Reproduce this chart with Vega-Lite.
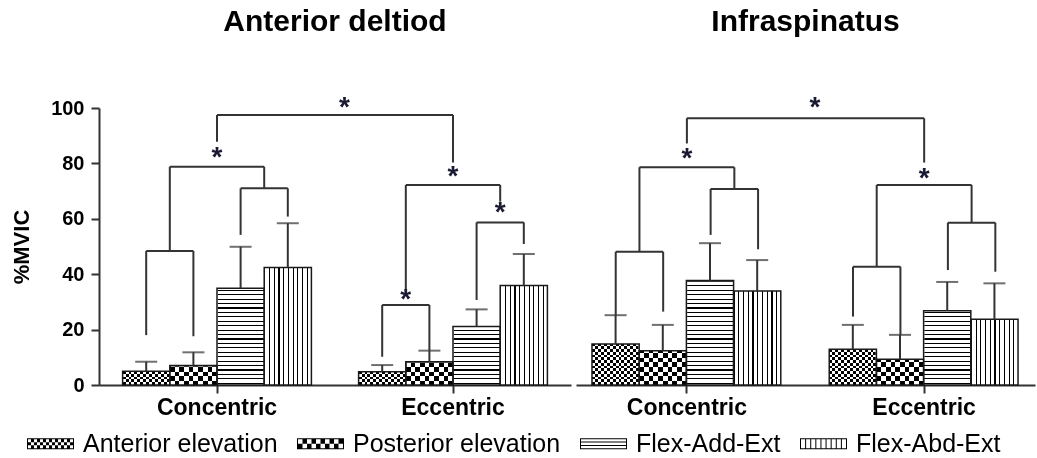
{
  "$schema": "https://vega.github.io/schema/vega-lite/v6.json",
  "background": "white",
  "padding": {"left": 10, "top": 7, "right": 3, "bottom": 0},
  "spacing": 5,
  "datasets": {
    "bars": [
      {"muscle": "Anterior deltiod", "phase": "Concentric", "type": "Anterior elevation", "mean": 5.0, "upper": 8.4},
      {"muscle": "Anterior deltiod", "phase": "Concentric", "type": "Posterior elevation", "mean": 7.0, "upper": 11.8},
      {"muscle": "Anterior deltiod", "phase": "Concentric", "type": "Flex-Add-Ext", "mean": 34.9, "upper": 49.9},
      {"muscle": "Anterior deltiod", "phase": "Concentric", "type": "Flex-Abd-Ext", "mean": 42.4, "upper": 58.4},
      {"muscle": "Anterior deltiod", "phase": "Eccentric", "type": "Anterior elevation", "mean": 4.8, "upper": 7.2},
      {"muscle": "Anterior deltiod", "phase": "Eccentric", "type": "Posterior elevation", "mean": 8.4, "upper": 12.4},
      {"muscle": "Anterior deltiod", "phase": "Eccentric", "type": "Flex-Add-Ext", "mean": 21.1, "upper": 27.3},
      {"muscle": "Anterior deltiod", "phase": "Eccentric", "type": "Flex-Abd-Ext", "mean": 35.9, "upper": 47.3},
      {"muscle": "Infraspinatus", "phase": "Concentric", "type": "Anterior elevation", "mean": 14.8, "upper": 25.2},
      {"muscle": "Infraspinatus", "phase": "Concentric", "type": "Posterior elevation", "mean": 12.4, "upper": 21.7},
      {"muscle": "Infraspinatus", "phase": "Concentric", "type": "Flex-Add-Ext", "mean": 37.7, "upper": 51.2},
      {"muscle": "Infraspinatus", "phase": "Concentric", "type": "Flex-Abd-Ext", "mean": 33.9, "upper": 45.1},
      {"muscle": "Infraspinatus", "phase": "Eccentric", "type": "Anterior elevation", "mean": 12.9, "upper": 21.7},
      {"muscle": "Infraspinatus", "phase": "Eccentric", "type": "Posterior elevation", "mean": 9.3, "upper": 18.1},
      {"muscle": "Infraspinatus", "phase": "Eccentric", "type": "Flex-Add-Ext", "mean": 26.8, "upper": 37.2},
      {"muscle": "Infraspinatus", "phase": "Eccentric", "type": "Flex-Abd-Ext", "mean": 23.7, "upper": 36.7}
    ],
    "brackets": [
      {"muscle": "Anterior deltiod", "xa": 1, "xb": 2, "y": 48.4, "ya": 18.0, "yb": 17.6},
      {"muscle": "Anterior deltiod", "xa": 3, "xb": 4, "y": 71.0, "ya": 54.2, "yb": 60.8},
      {"muscle": "Anterior deltiod", "xa": 1.5, "xb": 3.5, "y": 78.8, "ya": 48.4, "yb": 71.0},
      {"muscle": "Anterior deltiod", "xa": 6, "xb": 7, "y": 28.9, "ya": 10.2, "yb": 12.4},
      {"muscle": "Anterior deltiod", "xa": 8, "xb": 9, "y": 58.7, "ya": 30.7, "yb": 50.9},
      {"muscle": "Anterior deltiod", "xa": 6.5, "xb": 8.5, "y": 72.2, "ya": 33.7, "yb": 66.2},
      {"muscle": "Anterior deltiod", "xa": 2.5, "xb": 7.5, "y": 97.5, "ya": 87.8, "yb": 80.3},
      {"muscle": "Infraspinatus", "xa": 1, "xb": 2, "y": 48.1, "ya": 25.2, "yb": 26.5},
      {"muscle": "Infraspinatus", "xa": 3, "xb": 4, "y": 70.8, "ya": 54.2, "yb": 49.0},
      {"muscle": "Infraspinatus", "xa": 1.5, "xb": 3.5, "y": 78.6, "ya": 48.1, "yb": 70.8},
      {"muscle": "Infraspinatus", "xa": 6, "xb": 7, "y": 42.7, "ya": 24.7, "yb": 18.1},
      {"muscle": "Infraspinatus", "xa": 8, "xb": 9, "y": 58.6, "ya": 41.5, "yb": 40.9},
      {"muscle": "Infraspinatus", "xa": 6.5, "xb": 8.5, "y": 72.2, "ya": 42.7, "yb": 58.6},
      {"muscle": "Infraspinatus", "xa": 2.5, "xb": 7.5, "y": 96.3, "ya": 87.2, "yb": 80.3}
    ],
    "stars": [
      {"muscle": "Anterior deltiod", "x": 2.5, "y": 83.4, "label": "*"},
      {"muscle": "Anterior deltiod", "x": 6.5, "y": 32.1, "label": "*"},
      {"muscle": "Anterior deltiod", "x": 8.5, "y": 63.5, "label": "*"},
      {"muscle": "Anterior deltiod", "x": 7.5, "y": 76.4, "label": "*"},
      {"muscle": "Anterior deltiod", "x": 5.2, "y": 101.4, "label": "*"},
      {"muscle": "Infraspinatus", "x": 2.5, "y": 83.0, "label": "*"},
      {"muscle": "Infraspinatus", "x": 7.5, "y": 75.8, "label": "*"},
      {"muscle": "Infraspinatus", "x": 5.2, "y": 101.4, "label": "*"}
    ]
  },
  "resolve": {"scale": {"shape": "shared"}, "legend": {"shape": "shared"}},
  "hconcat": [
    {
      "width": 472,
      "height": 277,
      "title": {"text": "Anterior deltiod"},
      "resolve": {"scale": {"x": "independent"}},
      "layer": [
        {
          "data": {"name": "bars"},
          "transform": [{"filter": "datum.muscle === 'Anterior deltiod'"}],
          "encoding": {
            "x": {"field": "phase", "type": "nominal", "scale": {"domain": ["Concentric", "Eccentric"], "paddingInner": 0.2, "paddingOuter": 0.1}, "axis": {"title": null, "labelAngle": 0}},
            "xOffset": {"field": "type", "type": "nominal", "scale": {"domain": ["Anterior elevation", "Posterior elevation", "Flex-Add-Ext", "Flex-Abd-Ext"], "paddingInner": 0, "paddingOuter": 0}},
            "y": {"field": "mean", "type": "quantitative", "scale": {"domain": [0, 100], "nice": false}, "axis": {"title": "%MVIC", "values": [0, 20, 40, 60, 80, 100], "grid": false}}
          },
          "layer": [
            {"transform": [{"filter": "datum.type === 'Anterior elevation'"}], "mark": {"type": "bar", "style": "hfine"}, "encoding": {"y": {"datum": 100, "type": "quantitative"}, "y2": {"datum": 0}}},
            {"transform": [{"filter": "datum.type === 'Posterior elevation'"}], "mark": {"type": "bar", "style": "hchk"}, "encoding": {"y": {"datum": 100, "type": "quantitative"}, "y2": {"datum": 0}}},
            {"transform": [{"filter": "datum.type === 'Flex-Add-Ext'"}], "mark": {"type": "bar", "style": "hlin"}, "encoding": {"y": {"datum": 100, "type": "quantitative"}, "y2": {"datum": 0}}},
            {"transform": [{"filter": "datum.type !== 'Flex-Abd-Ext'"}], "mark": {"type": "bar", "fill": "white", "stroke": "white", "strokeWidth": 1.5}, "encoding": {"y2": {"datum": 100}}},
            {"transform": [{"filter": "datum.type === 'Anterior elevation'"}], "mark": {"type": "bar", "style": "vfine", "blend": "difference"}},
            {"transform": [{"filter": "datum.type === 'Posterior elevation'"}], "mark": {"type": "bar", "style": "vchk", "blend": "difference"}},
            {"transform": [{"filter": "datum.type === 'Flex-Abd-Ext'"}], "mark": {"type": "bar", "style": "vlin"}},
            {"mark": {"type": "bar", "fill": "white", "fillOpacity": 0, "stroke": "#1a1a1a", "strokeWidth": 1.5}},
            {"mark": {"type": "rule", "color": "#333", "strokeWidth": 2}, "encoding": {"y2": {"field": "upper"}}},
            {"mark": {"type": "tick", "color": "#333", "size": 22, "thickness": 2}, "encoding": {"y": {"field": "upper", "type": "quantitative"}}},
            {
              "transform": [{"filter": "false"}],
              "mark": {"type": "point", "filled": true, "color": "black"},
              "encoding": {
                "shape": {
                  "field": "type", "type": "nominal",
                  "scale": {
                    "domain": ["Anterior elevation", "Posterior elevation", "Flex-Add-Ext", "Flex-Abd-Ext"],
                    "range": [
                      "M-2,-0.468H2V0.468H-2Z M-1.915,-0.383V-0.128H-1.66V-0.383Z M-1.404,-0.383V-0.128H-1.149V-0.383Z M-0.894,-0.383V-0.128H-0.638V-0.383Z M-0.383,-0.383V-0.128H-0.128V-0.383Z M0.128,-0.383V-0.128H0.383V-0.383Z M0.638,-0.383V-0.128H0.894V-0.383Z M1.149,-0.383V-0.128H1.404V-0.383Z M1.66,-0.383V-0.128H1.915V-0.383Z M-1.66,-0.128V0.128H-1.404V-0.128Z M-1.149,-0.128V0.128H-0.894V-0.128Z M-0.638,-0.128V0.128H-0.383V-0.128Z M-0.128,-0.128V0.128H0.128V-0.128Z M0.383,-0.128V0.128H0.638V-0.128Z M0.894,-0.128V0.128H1.149V-0.128Z M1.404,-0.128V0.128H1.66V-0.128Z M-1.915,0.128V0.383H-1.66V0.128Z M-1.404,0.128V0.383H-1.149V0.128Z M-0.894,0.128V0.383H-0.638V0.128Z M-0.383,0.128V0.383H-0.128V0.128Z M0.128,0.128V0.383H0.383V0.128Z M0.638,0.128V0.383H0.894V0.128Z M1.149,0.128V0.383H1.404V0.128Z M1.66,0.128V0.383H1.915V0.128Z",
                      "M-2,-0.468H2V0.468H-2Z M-1.915,-0.383V0H-1.532V-0.383Z M-1.149,-0.383V0H-0.766V-0.383Z M-0.383,-0.383V0H0V-0.383Z M0.383,-0.383V0H0.766V-0.383Z M1.149,-0.383V0H1.532V-0.383Z M-1.532,0V0.383H-1.149V0Z M-0.766,0V0.383H-0.383V0Z M0,0V0.383H0.383V0Z M0.766,0V0.383H1.149V0Z M1.532,0V0.383H1.915V0Z",
                      "M-2,-0.468H2V0.468H-2Z M-1.915,-0.383V-0.184H1.915V-0.383Z M-1.915,-0.099V0.099H1.915V-0.099Z M-1.915,0.184V0.383H1.915V0.184Z",
                      "M-2,-0.468H2V0.468H-2Z M-1.915,-0.383V0.383H-1.565V-0.383Z M-1.48,-0.383V0.383H-1.13V-0.383Z M-1.045,-0.383V0.383H-0.695V-0.383Z M-0.61,-0.383V0.383H-0.26V-0.383Z M-0.175,-0.383V0.383H0.175V-0.383Z M0.26,-0.383V0.383H0.61V-0.383Z M0.695,-0.383V0.383H1.045V-0.383Z M1.13,-0.383V0.383H1.48V-0.383Z M1.565,-0.383V0.383H1.915V-0.383Z"
                    ]
                  },
                  "legend": {"title": null, "orient": "bottom", "direction": "horizontal", "symbolSize": 552, "symbolStrokeWidth": 0, "symbolFillColor": "black", "symbolOpacity": 1, "symbolOffset": -61, "labelFontSize": 25, "labelFont": "Liberation Sans", "labelColor": "black", "labelLimit": 400, "labelOffset": 20, "columnPadding": 19, "offset": 12}
                }
              }
            }
          ]
        },
        {
          "data": {"name": "brackets"},
          "transform": [{"filter": "datum.muscle === 'Anterior deltiod'"}],
          "layer": [
            {"mark": {"type": "rule", "color": "#333", "strokeWidth": 2}, "encoding": {"x": {"field": "xa", "type": "quantitative", "scale": {"domain": [0, 10], "nice": false, "zero": false}, "axis": null}, "x2": {"field": "xb"}, "y": {"field": "y", "type": "quantitative", "scale": {"domain": [0, 100], "nice": false}}}},
            {"mark": {"type": "rule", "color": "#333", "strokeWidth": 2}, "encoding": {"x": {"field": "xa", "type": "quantitative", "scale": {"domain": [0, 10], "nice": false, "zero": false}, "axis": null}, "y": {"field": "ya", "type": "quantitative", "scale": {"domain": [0, 100], "nice": false}}, "y2": {"field": "y"}}},
            {"mark": {"type": "rule", "color": "#333", "strokeWidth": 2}, "encoding": {"x": {"field": "xb", "type": "quantitative", "scale": {"domain": [0, 10], "nice": false, "zero": false}, "axis": null}, "y": {"field": "yb", "type": "quantitative", "scale": {"domain": [0, 100], "nice": false}}, "y2": {"field": "y"}}},
            {"data": {"name": "stars"}, "transform": [{"filter": "datum.muscle === 'Anterior deltiod'"}], "mark": {"type": "text", "fontSize": 28, "fontWeight": "bold", "font": "Liberation Sans", "color": "#1a1a33", "baseline": "alphabetic", "dy": 12}, "encoding": {"x": {"field": "x", "type": "quantitative", "scale": {"domain": [0, 10], "nice": false, "zero": false}, "axis": null}, "y": {"field": "y", "type": "quantitative", "scale": {"domain": [0, 100], "nice": false}}, "text": {"field": "label"}}}
          ]
        }
      ]
    },
    {
      "width": 459,
      "height": 277,
      "title": {"text": "Infraspinatus"},
      "resolve": {"scale": {"x": "independent"}},
      "layer": [
        {
          "data": {"name": "bars"},
          "transform": [{"filter": "datum.muscle === 'Infraspinatus'"}],
          "encoding": {
            "x": {"field": "phase", "type": "nominal", "scale": {"domain": ["Concentric", "Eccentric"], "paddingInner": 0.2, "paddingOuter": 0.0674}, "axis": {"title": null, "labelAngle": 0}},
            "xOffset": {"field": "type", "type": "nominal", "scale": {"domain": ["Anterior elevation", "Posterior elevation", "Flex-Add-Ext", "Flex-Abd-Ext"], "paddingInner": 0, "paddingOuter": 0}},
            "y": {"field": "mean", "type": "quantitative", "scale": {"domain": [0, 100], "nice": false}, "axis": null}
          },
          "layer": [
            {"transform": [{"filter": "datum.type === 'Anterior elevation'"}], "mark": {"type": "bar", "style": "hfine"}, "encoding": {"y": {"datum": 100, "type": "quantitative", "axis": null}, "y2": {"datum": 0}}},
            {"transform": [{"filter": "datum.type === 'Posterior elevation'"}], "mark": {"type": "bar", "style": "hchk"}, "encoding": {"y": {"datum": 100, "type": "quantitative", "axis": null}, "y2": {"datum": 0}}},
            {"transform": [{"filter": "datum.type === 'Flex-Add-Ext'"}], "mark": {"type": "bar", "style": "hlin"}, "encoding": {"y": {"datum": 100, "type": "quantitative", "axis": null}, "y2": {"datum": 0}}},
            {"transform": [{"filter": "datum.type !== 'Flex-Abd-Ext'"}], "mark": {"type": "bar", "fill": "white", "stroke": "white", "strokeWidth": 1.5}, "encoding": {"y2": {"datum": 100}}},
            {"transform": [{"filter": "datum.type === 'Anterior elevation'"}], "mark": {"type": "bar", "style": "vfine", "blend": "difference"}},
            {"transform": [{"filter": "datum.type === 'Posterior elevation'"}], "mark": {"type": "bar", "style": "vchk", "blend": "difference"}},
            {"transform": [{"filter": "datum.type === 'Flex-Abd-Ext'"}], "mark": {"type": "bar", "style": "vlin"}},
            {"mark": {"type": "bar", "fill": "white", "fillOpacity": 0, "stroke": "#1a1a1a", "strokeWidth": 1.5}},
            {"mark": {"type": "rule", "color": "#333", "strokeWidth": 2}, "encoding": {"y2": {"field": "upper"}}},
            {"mark": {"type": "tick", "color": "#333", "size": 22, "thickness": 2}, "encoding": {"y": {"field": "upper", "type": "quantitative", "axis": null}}}
          ]
        },
        {
          "data": {"name": "brackets"},
          "transform": [{"filter": "datum.muscle === 'Infraspinatus'"}],
          "layer": [
            {"mark": {"type": "rule", "color": "#333", "strokeWidth": 2}, "encoding": {"x": {"field": "xa", "type": "quantitative", "scale": {"domain": [0.163, 9.836], "nice": false, "zero": false}, "axis": null}, "x2": {"field": "xb"}, "y": {"field": "y", "type": "quantitative", "scale": {"domain": [0, 100], "nice": false}, "axis": null}}},
            {"mark": {"type": "rule", "color": "#333", "strokeWidth": 2}, "encoding": {"x": {"field": "xa", "type": "quantitative", "scale": {"domain": [0.163, 9.836], "nice": false, "zero": false}, "axis": null}, "y": {"field": "ya", "type": "quantitative", "scale": {"domain": [0, 100], "nice": false}, "axis": null}, "y2": {"field": "y"}}},
            {"mark": {"type": "rule", "color": "#333", "strokeWidth": 2}, "encoding": {"x": {"field": "xb", "type": "quantitative", "scale": {"domain": [0.163, 9.836], "nice": false, "zero": false}, "axis": null}, "y": {"field": "yb", "type": "quantitative", "scale": {"domain": [0, 100], "nice": false}, "axis": null}, "y2": {"field": "y"}}},
            {"data": {"name": "stars"}, "transform": [{"filter": "datum.muscle === 'Infraspinatus'"}], "mark": {"type": "text", "fontSize": 28, "fontWeight": "bold", "font": "Liberation Sans", "color": "#1a1a33", "baseline": "alphabetic", "dy": 12}, "encoding": {"x": {"field": "x", "type": "quantitative", "scale": {"domain": [0.163, 9.836], "nice": false, "zero": false}, "axis": null}, "y": {"field": "y", "type": "quantitative", "scale": {"domain": [0, 100], "nice": false}, "axis": null}, "text": {"field": "label"}}}
          ]
        }
      ]
    }
  ],
  "config": {
    "view": {"stroke": null},
    "font": "Liberation Sans",
    "title": {"fontSize": 30, "fontWeight": "bold", "font": "Liberation Sans", "color": "black", "anchor": "middle", "offset": 57},
    "axis": {"labelFont": "Liberation Sans", "titleFont": "Liberation Sans", "labelColor": "black", "titleColor": "black", "domainColor": "#333", "tickColor": "#333", "domainWidth": 2, "tickWidth": 2, "grid": false, "labelFontWeight": "bold"},
    "axisX": {"labelFontSize": 23, "tickSize": 8, "labelPadding": 3, "labelAngle": 0},
    "axisY": {"labelFontSize": 20, "tickSize": 8, "labelPadding": 7, "titleFontSize": 22, "titleFontWeight": "bold", "titlePadding": 17},
    "style": {
      "hfine": {"color": {"gradient": "linear", "x1": 0, "y1": 0, "x2": 0, "y2": 1, "stops": [
        {"offset":0,"color":"#000"},{"offset":0.01,"color":"#000"},{"offset":0.01,"color":"#fff"},{"offset":0.02,"color":"#fff"},{"offset":0.02,"color":"#000"},{"offset":0.03,"color":"#000"},{"offset":0.03,"color":"#fff"},{"offset":0.04,"color":"#fff"},{"offset":0.04,"color":"#000"},{"offset":0.05,"color":"#000"},{"offset":0.05,"color":"#fff"},{"offset":0.06,"color":"#fff"},{"offset":0.06,"color":"#000"},{"offset":0.07,"color":"#000"},{"offset":0.07,"color":"#fff"},{"offset":0.08,"color":"#fff"},{"offset":0.08,"color":"#000"},{"offset":0.09,"color":"#000"},{"offset":0.09,"color":"#fff"},{"offset":0.1,"color":"#fff"},
        {"offset":0.1,"color":"#000"},{"offset":0.11,"color":"#000"},{"offset":0.11,"color":"#fff"},{"offset":0.12,"color":"#fff"},{"offset":0.12,"color":"#000"},{"offset":0.13,"color":"#000"},{"offset":0.13,"color":"#fff"},{"offset":0.14,"color":"#fff"},{"offset":0.14,"color":"#000"},{"offset":0.15,"color":"#000"},{"offset":0.15,"color":"#fff"},{"offset":0.16,"color":"#fff"},{"offset":0.16,"color":"#000"},{"offset":0.17,"color":"#000"},{"offset":0.17,"color":"#fff"},{"offset":0.18,"color":"#fff"},{"offset":0.18,"color":"#000"},{"offset":0.19,"color":"#000"},{"offset":0.19,"color":"#fff"},{"offset":0.2,"color":"#fff"},
        {"offset":0.2,"color":"#000"},{"offset":0.21,"color":"#000"},{"offset":0.21,"color":"#fff"},{"offset":0.22,"color":"#fff"},{"offset":0.22,"color":"#000"},{"offset":0.23,"color":"#000"},{"offset":0.23,"color":"#fff"},{"offset":0.24,"color":"#fff"},{"offset":0.24,"color":"#000"},{"offset":0.25,"color":"#000"},{"offset":0.25,"color":"#fff"},{"offset":0.26,"color":"#fff"},{"offset":0.26,"color":"#000"},{"offset":0.27,"color":"#000"},{"offset":0.27,"color":"#fff"},{"offset":0.28,"color":"#fff"},{"offset":0.28,"color":"#000"},{"offset":0.29,"color":"#000"},{"offset":0.29,"color":"#fff"},{"offset":0.3,"color":"#fff"},
        {"offset":0.3,"color":"#000"},{"offset":0.31,"color":"#000"},{"offset":0.31,"color":"#fff"},{"offset":0.32,"color":"#fff"},{"offset":0.32,"color":"#000"},{"offset":0.33,"color":"#000"},{"offset":0.33,"color":"#fff"},{"offset":0.34,"color":"#fff"},{"offset":0.34,"color":"#000"},{"offset":0.35,"color":"#000"},{"offset":0.35,"color":"#fff"},{"offset":0.36,"color":"#fff"},{"offset":0.36,"color":"#000"},{"offset":0.37,"color":"#000"},{"offset":0.37,"color":"#fff"},{"offset":0.38,"color":"#fff"},{"offset":0.38,"color":"#000"},{"offset":0.39,"color":"#000"},{"offset":0.39,"color":"#fff"},{"offset":0.4,"color":"#fff"},
        {"offset":0.4,"color":"#000"},{"offset":0.41,"color":"#000"},{"offset":0.41,"color":"#fff"},{"offset":0.42,"color":"#fff"},{"offset":0.42,"color":"#000"},{"offset":0.43,"color":"#000"},{"offset":0.43,"color":"#fff"},{"offset":0.44,"color":"#fff"},{"offset":0.44,"color":"#000"},{"offset":0.45,"color":"#000"},{"offset":0.45,"color":"#fff"},{"offset":0.46,"color":"#fff"},{"offset":0.46,"color":"#000"},{"offset":0.47,"color":"#000"},{"offset":0.47,"color":"#fff"},{"offset":0.48,"color":"#fff"},{"offset":0.48,"color":"#000"},{"offset":0.49,"color":"#000"},{"offset":0.49,"color":"#fff"},{"offset":0.5,"color":"#fff"},
        {"offset":0.5,"color":"#000"},{"offset":0.51,"color":"#000"},{"offset":0.51,"color":"#fff"},{"offset":0.52,"color":"#fff"},{"offset":0.52,"color":"#000"},{"offset":0.53,"color":"#000"},{"offset":0.53,"color":"#fff"},{"offset":0.54,"color":"#fff"},{"offset":0.54,"color":"#000"},{"offset":0.55,"color":"#000"},{"offset":0.55,"color":"#fff"},{"offset":0.56,"color":"#fff"},{"offset":0.56,"color":"#000"},{"offset":0.57,"color":"#000"},{"offset":0.57,"color":"#fff"},{"offset":0.58,"color":"#fff"},{"offset":0.58,"color":"#000"},{"offset":0.59,"color":"#000"},{"offset":0.59,"color":"#fff"},{"offset":0.6,"color":"#fff"},
        {"offset":0.6,"color":"#000"},{"offset":0.61,"color":"#000"},{"offset":0.61,"color":"#fff"},{"offset":0.62,"color":"#fff"},{"offset":0.62,"color":"#000"},{"offset":0.63,"color":"#000"},{"offset":0.63,"color":"#fff"},{"offset":0.64,"color":"#fff"},{"offset":0.64,"color":"#000"},{"offset":0.65,"color":"#000"},{"offset":0.65,"color":"#fff"},{"offset":0.66,"color":"#fff"},{"offset":0.66,"color":"#000"},{"offset":0.67,"color":"#000"},{"offset":0.67,"color":"#fff"},{"offset":0.68,"color":"#fff"},{"offset":0.68,"color":"#000"},{"offset":0.69,"color":"#000"},{"offset":0.69,"color":"#fff"},{"offset":0.7,"color":"#fff"},
        {"offset":0.7,"color":"#000"},{"offset":0.71,"color":"#000"},{"offset":0.71,"color":"#fff"},{"offset":0.72,"color":"#fff"},{"offset":0.72,"color":"#000"},{"offset":0.73,"color":"#000"},{"offset":0.73,"color":"#fff"},{"offset":0.74,"color":"#fff"},{"offset":0.74,"color":"#000"},{"offset":0.75,"color":"#000"},{"offset":0.75,"color":"#fff"},{"offset":0.76,"color":"#fff"},{"offset":0.76,"color":"#000"},{"offset":0.77,"color":"#000"},{"offset":0.77,"color":"#fff"},{"offset":0.78,"color":"#fff"},{"offset":0.78,"color":"#000"},{"offset":0.79,"color":"#000"},{"offset":0.79,"color":"#fff"},{"offset":0.8,"color":"#fff"},
        {"offset":0.8,"color":"#000"},{"offset":0.81,"color":"#000"},{"offset":0.81,"color":"#fff"},{"offset":0.82,"color":"#fff"},{"offset":0.82,"color":"#000"},{"offset":0.83,"color":"#000"},{"offset":0.83,"color":"#fff"},{"offset":0.84,"color":"#fff"},{"offset":0.84,"color":"#000"},{"offset":0.85,"color":"#000"},{"offset":0.85,"color":"#fff"},{"offset":0.86,"color":"#fff"},{"offset":0.86,"color":"#000"},{"offset":0.87,"color":"#000"},{"offset":0.87,"color":"#fff"},{"offset":0.88,"color":"#fff"},{"offset":0.88,"color":"#000"},{"offset":0.89,"color":"#000"},{"offset":0.89,"color":"#fff"},{"offset":0.9,"color":"#fff"},
        {"offset":0.9,"color":"#000"},{"offset":0.91,"color":"#000"},{"offset":0.91,"color":"#fff"},{"offset":0.92,"color":"#fff"},{"offset":0.92,"color":"#000"},{"offset":0.93,"color":"#000"},{"offset":0.93,"color":"#fff"},{"offset":0.94,"color":"#fff"},{"offset":0.94,"color":"#000"},{"offset":0.95,"color":"#000"},{"offset":0.95,"color":"#fff"},{"offset":0.96,"color":"#fff"},{"offset":0.96,"color":"#000"},{"offset":0.97,"color":"#000"},{"offset":0.97,"color":"#fff"},{"offset":0.98,"color":"#fff"},{"offset":0.98,"color":"#000"},{"offset":0.99,"color":"#000"},{"offset":0.99,"color":"#fff"},{"offset":1,"color":"#fff"}
      ]}},
      "vfine": {"color": {"gradient": "linear", "x1": 0, "y1": 0, "x2": 1, "y2": 0, "stops": [
        {"offset":0,"color":"#fff"},{"offset":0.0625,"color":"#fff"},{"offset":0.0625,"color":"#000"},{"offset":0.125,"color":"#000"},{"offset":0.125,"color":"#fff"},{"offset":0.1875,"color":"#fff"},{"offset":0.1875,"color":"#000"},{"offset":0.25,"color":"#000"},{"offset":0.25,"color":"#fff"},{"offset":0.3125,"color":"#fff"},{"offset":0.3125,"color":"#000"},{"offset":0.375,"color":"#000"},{"offset":0.375,"color":"#fff"},{"offset":0.4375,"color":"#fff"},{"offset":0.4375,"color":"#000"},{"offset":0.5,"color":"#000"},
        {"offset":0.5,"color":"#fff"},{"offset":0.5625,"color":"#fff"},{"offset":0.5625,"color":"#000"},{"offset":0.625,"color":"#000"},{"offset":0.625,"color":"#fff"},{"offset":0.6875,"color":"#fff"},{"offset":0.6875,"color":"#000"},{"offset":0.75,"color":"#000"},{"offset":0.75,"color":"#fff"},{"offset":0.8125,"color":"#fff"},{"offset":0.8125,"color":"#000"},{"offset":0.875,"color":"#000"},{"offset":0.875,"color":"#fff"},{"offset":0.9375,"color":"#fff"},{"offset":0.9375,"color":"#000"},{"offset":1,"color":"#000"}
      ]}},
      "hchk": {"color": {"gradient": "linear", "x1": 0, "y1": 0, "x2": 0, "y2": 1, "stops": [
        {"offset":0,"color":"#000"},{"offset":0.017,"color":"#000"},{"offset":0.017,"color":"#fff"},{"offset":0.034,"color":"#fff"},{"offset":0.034,"color":"#000"},{"offset":0.051,"color":"#000"},{"offset":0.051,"color":"#fff"},{"offset":0.068,"color":"#fff"},{"offset":0.068,"color":"#000"},{"offset":0.085,"color":"#000"},{"offset":0.085,"color":"#fff"},{"offset":0.102,"color":"#fff"},{"offset":0.102,"color":"#000"},{"offset":0.119,"color":"#000"},{"offset":0.119,"color":"#fff"},{"offset":0.136,"color":"#fff"},{"offset":0.136,"color":"#000"},{"offset":0.153,"color":"#000"},{"offset":0.153,"color":"#fff"},{"offset":0.17,"color":"#fff"},
        {"offset":0.17,"color":"#000"},{"offset":0.187,"color":"#000"},{"offset":0.187,"color":"#fff"},{"offset":0.204,"color":"#fff"},{"offset":0.204,"color":"#000"},{"offset":0.221,"color":"#000"},{"offset":0.221,"color":"#fff"},{"offset":0.238,"color":"#fff"},{"offset":0.238,"color":"#000"},{"offset":0.255,"color":"#000"},{"offset":0.255,"color":"#fff"},{"offset":0.272,"color":"#fff"},{"offset":0.272,"color":"#000"},{"offset":0.289,"color":"#000"},{"offset":0.289,"color":"#fff"},{"offset":0.306,"color":"#fff"},{"offset":0.306,"color":"#000"},{"offset":0.323,"color":"#000"},{"offset":0.323,"color":"#fff"},{"offset":0.34,"color":"#fff"},
        {"offset":0.34,"color":"#000"},{"offset":0.357,"color":"#000"},{"offset":0.357,"color":"#fff"},{"offset":0.374,"color":"#fff"},{"offset":0.374,"color":"#000"},{"offset":0.391,"color":"#000"},{"offset":0.391,"color":"#fff"},{"offset":0.408,"color":"#fff"},{"offset":0.408,"color":"#000"},{"offset":0.425,"color":"#000"},{"offset":0.425,"color":"#fff"},{"offset":0.442,"color":"#fff"},{"offset":0.442,"color":"#000"},{"offset":0.459,"color":"#000"},{"offset":0.459,"color":"#fff"},{"offset":0.476,"color":"#fff"},{"offset":0.476,"color":"#000"},{"offset":0.493,"color":"#000"},{"offset":0.493,"color":"#fff"},{"offset":0.51,"color":"#fff"},
        {"offset":0.51,"color":"#000"},{"offset":0.527,"color":"#000"},{"offset":0.527,"color":"#fff"},{"offset":0.544,"color":"#fff"},{"offset":0.544,"color":"#000"},{"offset":0.561,"color":"#000"},{"offset":0.561,"color":"#fff"},{"offset":0.578,"color":"#fff"},{"offset":0.578,"color":"#000"},{"offset":0.595,"color":"#000"},{"offset":0.595,"color":"#fff"},{"offset":0.612,"color":"#fff"},{"offset":0.612,"color":"#000"},{"offset":0.629,"color":"#000"},{"offset":0.629,"color":"#fff"},{"offset":0.646,"color":"#fff"},{"offset":0.646,"color":"#000"},{"offset":0.663,"color":"#000"},{"offset":0.663,"color":"#fff"},{"offset":0.68,"color":"#fff"},
        {"offset":0.68,"color":"#000"},{"offset":0.697,"color":"#000"},{"offset":0.697,"color":"#fff"},{"offset":0.714,"color":"#fff"},{"offset":0.714,"color":"#000"},{"offset":0.731,"color":"#000"},{"offset":0.731,"color":"#fff"},{"offset":0.748,"color":"#fff"},{"offset":0.748,"color":"#000"},{"offset":0.765,"color":"#000"},{"offset":0.765,"color":"#fff"},{"offset":0.782,"color":"#fff"},{"offset":0.782,"color":"#000"},{"offset":0.799,"color":"#000"},{"offset":0.799,"color":"#fff"},{"offset":0.816,"color":"#fff"},{"offset":0.816,"color":"#000"},{"offset":0.833,"color":"#000"},{"offset":0.833,"color":"#fff"},{"offset":0.85,"color":"#fff"},
        {"offset":0.85,"color":"#000"},{"offset":0.867,"color":"#000"},{"offset":0.867,"color":"#fff"},{"offset":0.884,"color":"#fff"},{"offset":0.884,"color":"#000"},{"offset":0.901,"color":"#000"},{"offset":0.901,"color":"#fff"},{"offset":0.918,"color":"#fff"},{"offset":0.918,"color":"#000"},{"offset":0.935,"color":"#000"},{"offset":0.935,"color":"#fff"},{"offset":0.952,"color":"#fff"},{"offset":0.952,"color":"#000"},{"offset":0.969,"color":"#000"},{"offset":0.969,"color":"#fff"},{"offset":0.986,"color":"#fff"},{"offset":0.986,"color":"#000"},{"offset":1,"color":"#000"}
      ]}},
      "vchk": {"color": {"gradient": "linear", "x1": 0, "y1": 0, "x2": 1, "y2": 0, "stops": [
        {"offset":0,"color":"#fff"},{"offset":0.1,"color":"#fff"},{"offset":0.1,"color":"#000"},{"offset":0.2,"color":"#000"},{"offset":0.2,"color":"#fff"},{"offset":0.3,"color":"#fff"},{"offset":0.3,"color":"#000"},{"offset":0.4,"color":"#000"},{"offset":0.4,"color":"#fff"},{"offset":0.5,"color":"#fff"},{"offset":0.5,"color":"#000"},{"offset":0.6,"color":"#000"},{"offset":0.6,"color":"#fff"},{"offset":0.7,"color":"#fff"},{"offset":0.7,"color":"#000"},{"offset":0.8,"color":"#000"},{"offset":0.8,"color":"#fff"},{"offset":0.9,"color":"#fff"},{"offset":0.9,"color":"#000"},{"offset":1,"color":"#000"}
      ]}},
      "hlin": {"color": {"gradient": "linear", "x1": 0, "y1": 0, "x2": 0, "y2": 1, "stops": [
        {"offset":0,"color":"#000"},{"offset":0.004,"color":"#000"},{"offset":0.004,"color":"#fff"},{"offset":0.016,"color":"#fff"},
        {"offset":0.016,"color":"#000"},{"offset":0.02,"color":"#000"},{"offset":0.02,"color":"#fff"},{"offset":0.032,"color":"#fff"},
        {"offset":0.032,"color":"#000"},{"offset":0.036,"color":"#000"},{"offset":0.036,"color":"#fff"},{"offset":0.048,"color":"#fff"},
        {"offset":0.048,"color":"#000"},{"offset":0.052,"color":"#000"},{"offset":0.052,"color":"#fff"},{"offset":0.064,"color":"#fff"},
        {"offset":0.064,"color":"#000"},{"offset":0.068,"color":"#000"},{"offset":0.068,"color":"#fff"},{"offset":0.08,"color":"#fff"},
        {"offset":0.08,"color":"#000"},{"offset":0.084,"color":"#000"},{"offset":0.084,"color":"#fff"},{"offset":0.096,"color":"#fff"},
        {"offset":0.096,"color":"#000"},{"offset":0.1,"color":"#000"},{"offset":0.1,"color":"#fff"},{"offset":0.112,"color":"#fff"},
        {"offset":0.112,"color":"#000"},{"offset":0.116,"color":"#000"},{"offset":0.116,"color":"#fff"},{"offset":0.128,"color":"#fff"},
        {"offset":0.128,"color":"#000"},{"offset":0.132,"color":"#000"},{"offset":0.132,"color":"#fff"},{"offset":0.144,"color":"#fff"},
        {"offset":0.144,"color":"#000"},{"offset":0.148,"color":"#000"},{"offset":0.148,"color":"#fff"},{"offset":0.16,"color":"#fff"},
        {"offset":0.16,"color":"#000"},{"offset":0.164,"color":"#000"},{"offset":0.164,"color":"#fff"},{"offset":0.176,"color":"#fff"},
        {"offset":0.176,"color":"#000"},{"offset":0.18,"color":"#000"},{"offset":0.18,"color":"#fff"},{"offset":0.192,"color":"#fff"},
        {"offset":0.192,"color":"#000"},{"offset":0.196,"color":"#000"},{"offset":0.196,"color":"#fff"},{"offset":0.208,"color":"#fff"},
        {"offset":0.208,"color":"#000"},{"offset":0.212,"color":"#000"},{"offset":0.212,"color":"#fff"},{"offset":0.224,"color":"#fff"},
        {"offset":0.224,"color":"#000"},{"offset":0.228,"color":"#000"},{"offset":0.228,"color":"#fff"},{"offset":0.24,"color":"#fff"},
        {"offset":0.24,"color":"#000"},{"offset":0.244,"color":"#000"},{"offset":0.244,"color":"#fff"},{"offset":0.256,"color":"#fff"},
        {"offset":0.256,"color":"#000"},{"offset":0.26,"color":"#000"},{"offset":0.26,"color":"#fff"},{"offset":0.272,"color":"#fff"},
        {"offset":0.272,"color":"#000"},{"offset":0.276,"color":"#000"},{"offset":0.276,"color":"#fff"},{"offset":0.288,"color":"#fff"},
        {"offset":0.288,"color":"#000"},{"offset":0.292,"color":"#000"},{"offset":0.292,"color":"#fff"},{"offset":0.304,"color":"#fff"},
        {"offset":0.304,"color":"#000"},{"offset":0.308,"color":"#000"},{"offset":0.308,"color":"#fff"},{"offset":0.32,"color":"#fff"},
        {"offset":0.32,"color":"#000"},{"offset":0.324,"color":"#000"},{"offset":0.324,"color":"#fff"},{"offset":0.336,"color":"#fff"},
        {"offset":0.336,"color":"#000"},{"offset":0.34,"color":"#000"},{"offset":0.34,"color":"#fff"},{"offset":0.352,"color":"#fff"},
        {"offset":0.352,"color":"#000"},{"offset":0.356,"color":"#000"},{"offset":0.356,"color":"#fff"},{"offset":0.368,"color":"#fff"},
        {"offset":0.368,"color":"#000"},{"offset":0.372,"color":"#000"},{"offset":0.372,"color":"#fff"},{"offset":0.384,"color":"#fff"},
        {"offset":0.384,"color":"#000"},{"offset":0.388,"color":"#000"},{"offset":0.388,"color":"#fff"},{"offset":0.4,"color":"#fff"},
        {"offset":0.4,"color":"#000"},{"offset":0.404,"color":"#000"},{"offset":0.404,"color":"#fff"},{"offset":0.416,"color":"#fff"},
        {"offset":0.416,"color":"#000"},{"offset":0.42,"color":"#000"},{"offset":0.42,"color":"#fff"},{"offset":0.432,"color":"#fff"},
        {"offset":0.432,"color":"#000"},{"offset":0.436,"color":"#000"},{"offset":0.436,"color":"#fff"},{"offset":0.448,"color":"#fff"},
        {"offset":0.448,"color":"#000"},{"offset":0.452,"color":"#000"},{"offset":0.452,"color":"#fff"},{"offset":0.464,"color":"#fff"},
        {"offset":0.464,"color":"#000"},{"offset":0.468,"color":"#000"},{"offset":0.468,"color":"#fff"},{"offset":0.48,"color":"#fff"},
        {"offset":0.48,"color":"#000"},{"offset":0.484,"color":"#000"},{"offset":0.484,"color":"#fff"},{"offset":0.496,"color":"#fff"},
        {"offset":0.496,"color":"#000"},{"offset":0.5,"color":"#000"},{"offset":0.5,"color":"#fff"},{"offset":0.512,"color":"#fff"},
        {"offset":0.512,"color":"#000"},{"offset":0.516,"color":"#000"},{"offset":0.516,"color":"#fff"},{"offset":0.528,"color":"#fff"},
        {"offset":0.528,"color":"#000"},{"offset":0.532,"color":"#000"},{"offset":0.532,"color":"#fff"},{"offset":0.544,"color":"#fff"},
        {"offset":0.544,"color":"#000"},{"offset":0.548,"color":"#000"},{"offset":0.548,"color":"#fff"},{"offset":0.56,"color":"#fff"},
        {"offset":0.56,"color":"#000"},{"offset":0.564,"color":"#000"},{"offset":0.564,"color":"#fff"},{"offset":0.576,"color":"#fff"},
        {"offset":0.576,"color":"#000"},{"offset":0.58,"color":"#000"},{"offset":0.58,"color":"#fff"},{"offset":0.592,"color":"#fff"},
        {"offset":0.592,"color":"#000"},{"offset":0.596,"color":"#000"},{"offset":0.596,"color":"#fff"},{"offset":0.608,"color":"#fff"},
        {"offset":0.608,"color":"#000"},{"offset":0.612,"color":"#000"},{"offset":0.612,"color":"#fff"},{"offset":0.624,"color":"#fff"},
        {"offset":0.624,"color":"#000"},{"offset":0.628,"color":"#000"},{"offset":0.628,"color":"#fff"},{"offset":0.64,"color":"#fff"},
        {"offset":0.64,"color":"#000"},{"offset":0.644,"color":"#000"},{"offset":0.644,"color":"#fff"},{"offset":0.656,"color":"#fff"},
        {"offset":0.656,"color":"#000"},{"offset":0.66,"color":"#000"},{"offset":0.66,"color":"#fff"},{"offset":0.672,"color":"#fff"},
        {"offset":0.672,"color":"#000"},{"offset":0.676,"color":"#000"},{"offset":0.676,"color":"#fff"},{"offset":0.688,"color":"#fff"},
        {"offset":0.688,"color":"#000"},{"offset":0.692,"color":"#000"},{"offset":0.692,"color":"#fff"},{"offset":0.704,"color":"#fff"},
        {"offset":0.704,"color":"#000"},{"offset":0.708,"color":"#000"},{"offset":0.708,"color":"#fff"},{"offset":0.72,"color":"#fff"},
        {"offset":0.72,"color":"#000"},{"offset":0.724,"color":"#000"},{"offset":0.724,"color":"#fff"},{"offset":0.736,"color":"#fff"},
        {"offset":0.736,"color":"#000"},{"offset":0.74,"color":"#000"},{"offset":0.74,"color":"#fff"},{"offset":0.752,"color":"#fff"},
        {"offset":0.752,"color":"#000"},{"offset":0.756,"color":"#000"},{"offset":0.756,"color":"#fff"},{"offset":0.768,"color":"#fff"},
        {"offset":0.768,"color":"#000"},{"offset":0.772,"color":"#000"},{"offset":0.772,"color":"#fff"},{"offset":0.784,"color":"#fff"},
        {"offset":0.784,"color":"#000"},{"offset":0.788,"color":"#000"},{"offset":0.788,"color":"#fff"},{"offset":0.8,"color":"#fff"},
        {"offset":0.8,"color":"#000"},{"offset":0.804,"color":"#000"},{"offset":0.804,"color":"#fff"},{"offset":0.816,"color":"#fff"},
        {"offset":0.816,"color":"#000"},{"offset":0.82,"color":"#000"},{"offset":0.82,"color":"#fff"},{"offset":0.832,"color":"#fff"},
        {"offset":0.832,"color":"#000"},{"offset":0.836,"color":"#000"},{"offset":0.836,"color":"#fff"},{"offset":0.848,"color":"#fff"},
        {"offset":0.848,"color":"#000"},{"offset":0.852,"color":"#000"},{"offset":0.852,"color":"#fff"},{"offset":0.864,"color":"#fff"},
        {"offset":0.864,"color":"#000"},{"offset":0.868,"color":"#000"},{"offset":0.868,"color":"#fff"},{"offset":0.88,"color":"#fff"},
        {"offset":0.88,"color":"#000"},{"offset":0.884,"color":"#000"},{"offset":0.884,"color":"#fff"},{"offset":0.896,"color":"#fff"},
        {"offset":0.896,"color":"#000"},{"offset":0.9,"color":"#000"},{"offset":0.9,"color":"#fff"},{"offset":0.912,"color":"#fff"},
        {"offset":0.912,"color":"#000"},{"offset":0.916,"color":"#000"},{"offset":0.916,"color":"#fff"},{"offset":0.928,"color":"#fff"},
        {"offset":0.928,"color":"#000"},{"offset":0.932,"color":"#000"},{"offset":0.932,"color":"#fff"},{"offset":0.944,"color":"#fff"},
        {"offset":0.944,"color":"#000"},{"offset":0.948,"color":"#000"},{"offset":0.948,"color":"#fff"},{"offset":0.96,"color":"#fff"},
        {"offset":0.96,"color":"#000"},{"offset":0.964,"color":"#000"},{"offset":0.964,"color":"#fff"},{"offset":0.976,"color":"#fff"},
        {"offset":0.976,"color":"#000"},{"offset":0.98,"color":"#000"},{"offset":0.98,"color":"#fff"},{"offset":0.992,"color":"#fff"},
        {"offset":0.992,"color":"#000"},{"offset":0.996,"color":"#000"},{"offset":0.996,"color":"#fff"},{"offset":1,"color":"#fff"}
      ]}},
      "vlin": {"color": {"gradient": "linear", "x1": 0, "y1": 0, "x2": 1, "y2": 0, "stops": [
        {"offset":0,"color":"#000"},{"offset":0.025,"color":"#000"},{"offset":0.025,"color":"#fff"},{"offset":0.1,"color":"#fff"},
        {"offset":0.1,"color":"#000"},{"offset":0.125,"color":"#000"},{"offset":0.125,"color":"#fff"},{"offset":0.2,"color":"#fff"},
        {"offset":0.2,"color":"#000"},{"offset":0.225,"color":"#000"},{"offset":0.225,"color":"#fff"},{"offset":0.3,"color":"#fff"},
        {"offset":0.3,"color":"#000"},{"offset":0.325,"color":"#000"},{"offset":0.325,"color":"#fff"},{"offset":0.4,"color":"#fff"},
        {"offset":0.4,"color":"#000"},{"offset":0.425,"color":"#000"},{"offset":0.425,"color":"#fff"},{"offset":0.5,"color":"#fff"},
        {"offset":0.5,"color":"#000"},{"offset":0.525,"color":"#000"},{"offset":0.525,"color":"#fff"},{"offset":0.6,"color":"#fff"},
        {"offset":0.6,"color":"#000"},{"offset":0.625,"color":"#000"},{"offset":0.625,"color":"#fff"},{"offset":0.7,"color":"#fff"},
        {"offset":0.7,"color":"#000"},{"offset":0.725,"color":"#000"},{"offset":0.725,"color":"#fff"},{"offset":0.8,"color":"#fff"},
        {"offset":0.8,"color":"#000"},{"offset":0.825,"color":"#000"},{"offset":0.825,"color":"#fff"},{"offset":0.9,"color":"#fff"},
        {"offset":0.9,"color":"#000"},{"offset":0.925,"color":"#000"},{"offset":0.925,"color":"#fff"},{"offset":1,"color":"#fff"}
      ]}}
    }
  }
}
